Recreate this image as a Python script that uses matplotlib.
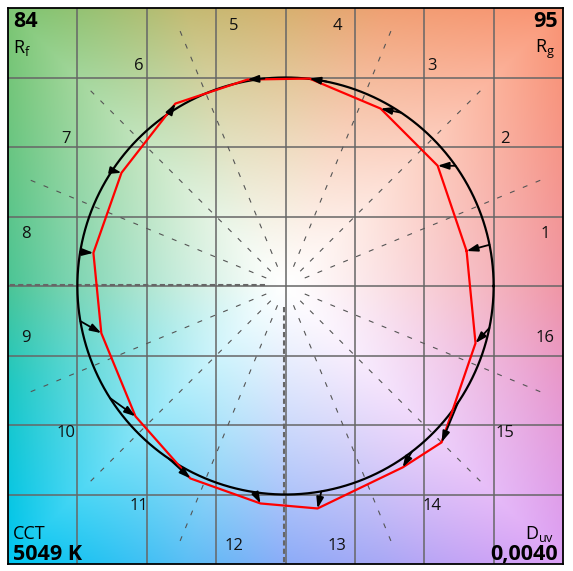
import numpy as np
import matplotlib.pyplot as plt

plt.rcParams['font.family'] = ['Open Sans', 'DejaVu Sans']
plt.rcParams['mathtext.fontset'] = 'custom'
plt.rcParams['mathtext.rm'] = 'Open Sans'
plt.rcParams['mathtext.default'] = 'regular'

# TM-30 colour vector graphic values
bins = np.arange(1, 17)
ref_angle = np.array([11.4, 35.2, 56.2, 78.6, 95.8, 123.8, 146.4, 170.6,
                      189.7, 212.5, 235.9, 261.5, 279.9, 307.4, 326.0, 348.4])
test_x = np.array([0.870, 0.731, 0.457, 0.115, -0.183, -0.529, -0.788, -0.923,
                   -0.885, -0.721, -0.457, -0.120, 0.154, 0.563, 0.750, 0.913])
test_y = np.array([0.168, 0.577, 0.851, 0.995, 0.990, 0.875, 0.543, 0.159,
                   -0.226, -0.625, -0.923, -1.043, -1.067, -0.870, -0.750, -0.274])
Rf = "84"
Rg = "95"
CCT = "5049 K"
Duv = "0,0040"

# background hue colours along the frame edge (angle in degrees)
edge_ang = [0, 45, 70, 90, 110, 135, 180, 200, 225, 250, 270, 290, 315, 340, 360]
edge_rgb = np.array([
    [240, 150, 165], [250, 148, 115], [240, 160, 115], [215, 177, 112],
    [195, 187, 115], [125, 198, 115], [75, 197, 150], [30, 200, 195],
    [0, 198, 240], [90, 190, 245], [140, 172, 248], [170, 168, 245],
    [220, 160, 245], [232, 152, 205], [240, 150, 165]]) / 255.0

lim = 4 / 3
n = 400
g = np.linspace(-lim, lim, n)
X, Y = np.meshgrid(g, g[::-1])
A = np.degrees(np.arctan2(Y, X)) % 360
S = np.clip(np.maximum(np.abs(X), np.abs(Y)) / lim, 0, 1) ** 1.2
img = np.zeros((n, n, 3))
for c in range(3):
    col = np.interp(A, edge_ang, edge_rgb[:, c])
    img[:, :, c] = 1 - S * (1 - col)

fig = plt.figure(figsize=(5.73, 5.71), dpi=100)
ax = fig.add_axes([8 / 573, 7 / 571, 555 / 573, 556 / 571])
ax.imshow(img, extent=[-lim, lim, -lim, lim], zorder=0, aspect='auto')
ax.set_xlim(-lim, lim)
ax.set_ylim(-lim, lim)
ax.set_xticks([])
ax.set_yticks([])
for s in ax.spines.values():
    s.set_linewidth(1.3)

# grid
for k in range(-3, 4):
    ax.axvline(k / 3, color='#666666', lw=1.1, zorder=1)
    ax.axhline(k / 3, color='#666666', lw=1.1, zorder=1)

# radial dashed lines at bin edges
px = 1 / 208  # one pixel in data units
for k in range(16):
    a = np.radians(k * 22.5)
    if k % 4 == 0:
        if k in (8, 12):
            dx = 0 if k == 8 else -px
            dy = px if k == 8 else 0
            ax.plot([0.1 * np.cos(a) + dx, 1.5 * np.cos(a) + dx],
                    [0.1 * np.sin(a) + dy, 1.5 * np.sin(a) + dy],
                    color='#666666', lw=1.5, ls=(0, (2.5, 1.5)), zorder=2)
    else:
        ax.plot([0.1 * np.cos(a), 1.33 * np.cos(a)],
                [0.1 * np.sin(a), 1.33 * np.sin(a)],
                color='#555555', lw=0.8, ls=(0, (4.5, 8)), zorder=2)

# bin numbers
for b in bins:
    a = np.radians((b - 1) * 22.5 + 11.25)
    ax.text(1.27 * np.cos(a), 1.27 * np.sin(a), str(b), ha='center', va='center',
            fontsize=12, color='#111111', zorder=3)

# reference circle
t = np.linspace(0, 2 * np.pi, 400)
ax.plot(np.cos(t), np.sin(t), color='black', lw=1.6, zorder=4)

# test polygon
ax.plot(np.append(test_x, test_x[0]), np.append(test_y, test_y[0]),
        color='#ff0000', lw=1.6, zorder=5)

# arrows from reference to test
for ang, tx, ty in zip(ref_angle, test_x, test_y):
    a = np.radians(ang)
    ax.annotate('', xy=(tx, ty), xytext=(np.cos(a), np.sin(a)),
                arrowprops=dict(arrowstyle='-|>,head_length=0.55,head_width=0.18',
                                color='black', lw=1.3, mutation_scale=12,
                                shrinkA=0, shrinkB=0),
                zorder=6)

# corner text
ax.text(0.009, 0.994, Rf, transform=ax.transAxes, ha='left', va='top',
        fontsize=15.5, fontweight='bold')
ax.text(0.009, 0.946, r'R$_f$', transform=ax.transAxes, ha='left', va='top',
        fontsize=13)
ax.text(0.991, 0.994, Rg, transform=ax.transAxes, ha='right', va='top',
        fontsize=15.5, fontweight='bold')
ax.text(0.985, 0.946, r'R$_g$', transform=ax.transAxes, ha='right', va='top',
        fontsize=13)
ax.text(0.009, 0.045, 'CCT', transform=ax.transAxes, ha='left', va='baseline',
        fontsize=13)
ax.text(0.009, 0.008, CCT, transform=ax.transAxes, ha='left', va='baseline',
        fontsize=15.5, fontweight='bold')
ax.text(0.985, 0.045, r'D$_{uv}$', transform=ax.transAxes, ha='right', va='baseline',
        fontsize=13)
ax.text(0.991, 0.008, Duv, transform=ax.transAxes, ha='right', va='baseline',
        fontsize=15.5, fontweight='bold')

fig.savefig('out.png', dpi=100)
